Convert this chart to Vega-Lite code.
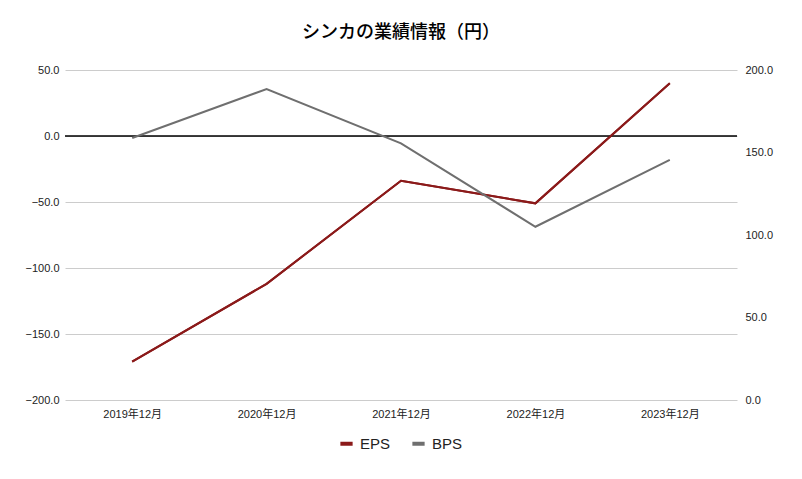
{
  "$schema": "https://vega.github.io/schema/vega-lite/v6.json",
  "width": 672,
  "height": 330,
  "autosize": {"type": "none"},
  "padding": {"left": 65, "top": 70, "right": 65, "bottom": 79},
  "background": "white",
  "title": {
    "text": "シンカの業績情報（円）",
    "font": "Noto Sans CJK JP",
    "fontSize": 18,
    "fontWeight": 500,
    "color": "#000000",
    "offset": 22,
    "anchor": "middle"
  },
  "config": {
    "view": {"stroke": null},
    "font": "Liberation Sans, Noto Sans CJK JP",
    "axis": {"labelFont": "Liberation Sans, Noto Sans CJK JP", "labelColor": "#222222", "labelFontSize": 11}
  },
  "data": {
    "values": [
      {"period": "2019年12月", "series": "EPS", "value": -171.0},
      {"period": "2020年12月", "series": "EPS", "value": -112.0},
      {"period": "2021年12月", "series": "EPS", "value": -33.9},
      {"period": "2022年12月", "series": "EPS", "value": -51.0},
      {"period": "2023年12月", "series": "EPS", "value": 39.9},
      {"period": "2019年12月", "series": "BPS", "value": 158.8},
      {"period": "2020年12月", "series": "BPS", "value": 188.5},
      {"period": "2021年12月", "series": "BPS", "value": 155.5},
      {"period": "2022年12月", "series": "BPS", "value": 105.0},
      {"period": "2023年12月", "series": "BPS", "value": 145.5}
    ]
  },
  "layer": [
    {
      "layer": [
        {
          "transform": [{"filter": "datum.series === 'EPS'"}],
          "mark": {"type": "line", "strokeWidth": 2},
          "encoding": {
            "x": {
              "field": "period",
              "type": "ordinal",
              "scale": {"type": "point", "padding": 0.5},
              "sort": null,
              "axis": {"title": null, "labelAngle": 0, "ticks": false, "domain": false, "labelPadding": 8, "grid": false}
            },
            "y": {
              "field": "value",
              "type": "quantitative",
              "scale": {"domain": [-200, 50], "nice": false, "zero": false},
              "axis": {
                "title": null,
                "values": [-200, -150, -100, -50, 0, 50],
                "format": ".1f",
                "ticks": false,
                "domain": false,
                "gridColor": "#cccccc",
                "labelPadding": 6
              }
            },
            "color": {
              "field": "series",
              "type": "nominal",
              "scale": {"domain": ["EPS", "BPS"], "range": ["#8b1a1a", "#6f6f6f"]},
              "legend": {
                "title": null,
                "orient": "none",
                "direction": "horizontal",
                "legendX": 273,
                "legendY": 365,
                "symbolType": "stroke",
                "symbolStrokeWidth": 4,
                "symbolSize": 150,
                "labelFontSize": 15,
                "labelColor": "#222222",
                "labelFont": "Liberation Sans",
                "columnPadding": 13,
                "labelOffset": 5
              }
            }
          }
        },
        {
          "data": {"values": [{}]},
          "mark": {"type": "rule", "stroke": "#000000", "strokeWidth": 1.4},
          "encoding": {
            "y": {"datum": 0, "type": "quantitative"}
          }
        },
        {
          "transform": [{"filter": "datum.series === 'EPS'"}],
          "mark": {"type": "line", "strokeWidth": 2},
          "encoding": {
            "x": {"field": "period", "type": "ordinal", "sort": null},
            "y": {"field": "value", "type": "quantitative"},
            "color": {"field": "series", "type": "nominal"}
          }
        }
      ]
    },
    {
      "transform": [{"filter": "datum.series === 'BPS'"}],
      "mark": {"type": "line", "strokeWidth": 2},
      "encoding": {
        "x": {"field": "period", "type": "ordinal", "sort": null},
        "y": {
          "field": "value",
          "type": "quantitative",
          "scale": {"domain": [0, 200], "nice": false},
          "axis": {
            "orient": "right",
            "title": null,
            "values": [0, 50, 100, 150, 200],
            "format": ".1f",
            "ticks": false,
            "domain": false,
            "grid": false,
            "labelPadding": 8
          }
        },
        "color": {"field": "series", "type": "nominal"}
      }
    }
  ],
  "resolve": {"scale": {"y": "independent"}}
}
